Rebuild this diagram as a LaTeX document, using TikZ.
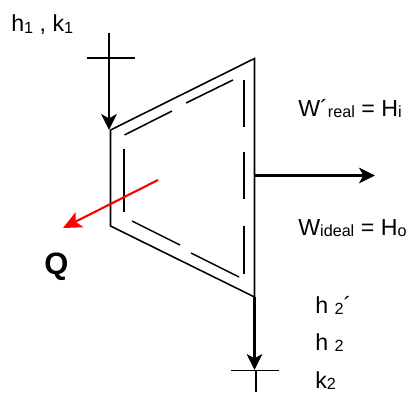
\documentclass[tikz,border=0pt]{standalone}
\usepackage{fontspec}
\setmainfont{Liberation Sans}
\usetikzlibrary{arrows.meta}
\newcommand{\subtxt}[1]{\raisebox{-0.15ex}{\fontsize{11.5}{11.5}\selectfont #1}}
\tikzset{
    turbine/outline/.style={draw=black, line width=1.1pt, line join=miter},
    turbine/inner/.style={draw=black, line width=1.1pt},
    turbine/tick/.style={draw=black, line width=1.1pt},
    turbine/flow/.style={
        draw=black, line width=1.5pt, -{Stealth[length=4mm,width=3.9mm,inset=1.1mm]}
    },
    turbine/heat/.style={
        draw=red, line width=1.5pt, -{Stealth[length=4.6mm,width=4.2mm,inset=1.1mm]}
    },
    turbine/label/.style={font=\fontsize{16.5}{16.5}\selectfont, anchor=base west, inner sep=0pt}
}
\begin{document}
\begin{tikzpicture}[x=0.025cm,y=-0.025cm]
    \useasboundingbox (0,0) rectangle (408,394);

    % casing corners
    \coordinate (inTop) at (110.5,130);
    \coordinate (outTop) at (254.5,58.5);
    \coordinate (outBottom) at (254.5,297);
    \coordinate (inBottom) at (110.5,226);
    \draw[turbine/outline] (inTop) -- (outTop) -- (outBottom) -- (inBottom) -- cycle;

    % inner dashes
    \draw[turbine/inner] (124.5,135) -- (172,111);
    \draw[turbine/inner] (186,103) -- (233,80);
    \draw[turbine/inner] (244,80) -- (244,127);
    \draw[turbine/inner] (244,152) -- (244,199);
    \draw[turbine/inner] (244,226) -- (244,274);
    \draw[turbine/inner] (239,277) -- (191,253);
    \draw[turbine/inner] (180,245) -- (132,221);
    \draw[turbine/inner] (124,212) -- (124,149);

    % inlet
    \coordinate (inletEnd) at (109,33);
    \coordinate (inletTip) at (109,130);
    \draw[turbine/flow] (inletEnd) -- (inletTip);
    \coordinate (inBarL) at (87,58);
    \coordinate (inBarR) at (135,58);
    \draw[turbine/tick] (inBarL) -- (inBarR);

    % outlet
    \coordinate (outletTip) at (254.5,370);
    \draw[turbine/flow] (outBottom) -- (outletTip);
    \coordinate (outBarL) at (231,370.5);
    \coordinate (outBarR) at (279,370.5);
    \coordinate (outletEnd) at (256,392);
    \draw[turbine/tick] (outBarL) -- (outBarR);
    \draw[turbine/tick] (256,370.5) -- (outletEnd);

    % work and heat
    \coordinate (workFrom) at (255,175.5);
    \coordinate (workTip) at (375,175.5);
    \draw[turbine/flow] (workFrom) -- (workTip);
    \coordinate (heatFrom) at (158,180);
    \coordinate (heatTip) at (63,228);
    \draw[turbine/heat] (heatFrom) -- (heatTip);

    \node[turbine/label] (hIn) at (11,32) {h\subtxt{1} , k\subtxt{1}};
    \node[turbine/label] (wReal) at (298,116) {W´\subtxt{real} = H\subtxt{i}};
    \node[turbine/label] (wIdeal) at (298,235) {W\subtxt{ideal} = H\subtxt{o}};
    \node[turbine/label] (hReal) at (315,313) {h \subtxt{2}´};
    \node[turbine/label] (hIdeal) at (315,350) {h \subtxt{2}};
    \node[turbine/label] (kOut) at (315,388) {k\subtxt{2}};
    \node[turbine/label, font=\fontsize{22}{22}\selectfont\bfseries] (heat) at (44,274) {Q};
\end{tikzpicture}
\end{document}
